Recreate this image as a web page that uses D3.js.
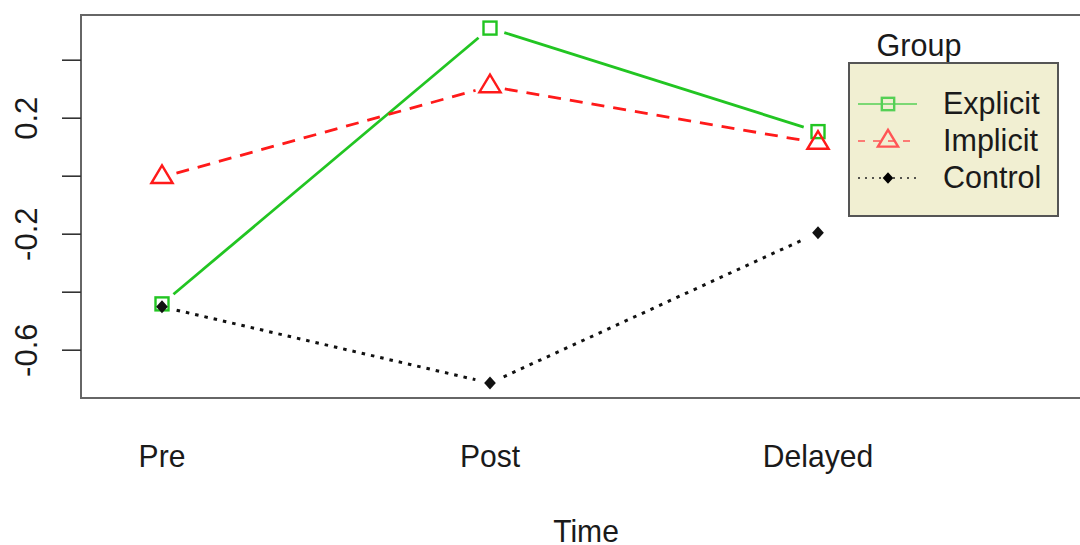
<!DOCTYPE html>
<html><head><meta charset="utf-8">
<script src="https://cdn.jsdelivr.net/npm/d3@7"></script>
<style>body{margin:0;background:#fff}svg{display:block}text{font-family:"Liberation Sans",Arial,sans-serif;fill:#1a1a1a}</style>
</head><body><svg id="c" width="1080" height="545"></svg>
<script>
const times = ["Pre", "Post", "Delayed"];
const groups = ["Explicit", "Implicit", "Control"];
const explicitVals = [-0.442, 0.509, 0.152];
const implicitVals = [-0.005, 0.308, 0.113];
const controlVals = [-0.452, -0.715, -0.197];
const yTicks = [-0.6, -0.4, -0.2, 0.0, 0.2, 0.4];
const yTickLabels = ["-0.6", "", "-0.2", "", "0.2", ""];
const xLabel = "Time";
const legendTitle = "Group";

const svg = d3.select("#c");
const x = d3.scalePoint().domain(times).range([162, 818]);
const y = d3.scaleLinear().domain([-0.6, 0.4]).range([349.7, 59.7]);

// plot box
svg.append("rect").attr("x", 81).attr("y", 15).attr("width", 1020).attr("height", 383)
  .attr("fill", "none").attr("stroke", "#666").attr("stroke-width", 2);

// y axis
const yAxis = d3.axisLeft(y).tickValues(yTicks).tickSize(19).tickFormat((d, i) => yTickLabels[i]);
const ga = svg.append("g").attr("transform", "translate(81,0)").call(yAxis);
ga.select(".domain").remove();
ga.selectAll(".tick line").attr("stroke", "#333").attr("stroke-width", 1.6);
ga.selectAll(".tick text").attr("transform", "rotate(-90)").attr("x", 0).attr("y", -44)
  .attr("dy", 0).attr("text-anchor", "middle").style("font-size", "31px").attr("fill", "#1a1a1a");

// x labels
svg.append("g").selectAll("text").data(times).join("text")
  .attr("transform", d => `translate(${x(d)},467) scale(0.94,1)`)
  .attr("text-anchor", "middle").style("font-size", "32px").text(d => d);
svg.append("text").attr("transform", "translate(586,542) scale(0.94,1)")
  .attr("text-anchor", "middle").style("font-size", "32px").text(xLabel);

const series = [
  {name: groups[0], vals: explicitVals, color: "#22C522", dash: null, width: 2.8, shape: "square"},
  {name: groups[1], vals: implicitVals, color: "#FF1A1A", dash: "13,9", width: 2.8, shape: "triangle"},
  {name: groups[2], vals: controlVals, color: "#111", dash: "3.5,6", width: 3, shape: "diamond"}
];

function drawMarker(g, shape, cx, cy, color, s) {
  if (shape === "square") {
    g.append("rect").attr("x", cx - 6.5 * s).attr("y", cy - 6.5 * s).attr("width", 13 * s).attr("height", 13 * s)
      .attr("fill", "none").attr("stroke", color).attr("stroke-width", 2.4);
  } else if (shape === "triangle") {
    const h = 8.8 * s, w = 10.6 * s;
    g.append("path").attr("d", `M${cx},${cy - 1.333 * h}L${cx + w},${cy + 0.667 * h}L${cx - w},${cy + 0.667 * h}Z`)
      .attr("fill", "none").attr("stroke", color).attr("stroke-width", 2.4);
  } else {
    const r = 6.5 * s;
    g.append("path").attr("d", `M${cx},${cy - r}L${cx + r * 0.9},${cy}L${cx},${cy + r}L${cx - r * 0.9},${cy}Z`)
      .attr("fill", color);
  }
}

const gap = 15;
series.forEach(s => {
  const g = svg.append("g");
  const pts = s.vals.map((v, i) => [x(times[i]), y(v)]);
  for (let i = 0; i < pts.length - 1; i++) {
    const [x0, y0] = pts[i], [x1, y1] = pts[i + 1];
    const L = Math.hypot(x1 - x0, y1 - y0);
    const ux = (x1 - x0) / L, uy = (y1 - y0) / L;
    g.append("line").attr("x1", x0 + ux * gap).attr("y1", y0 + uy * gap)
      .attr("x2", x1 - ux * gap).attr("y2", y1 - uy * gap)
      .attr("stroke", s.color).attr("stroke-width", s.width)
      .attr("stroke-dasharray", s.dash).attr("stroke-linecap", "butt");
  }
  pts.forEach(p => drawMarker(g, s.shape, p[0], p[1], s.color, 1));
});

// legend
svg.append("text").attr("x", 919).attr("y", 56).attr("text-anchor", "middle").style("font-size", "30.5px").text(legendTitle);
svg.append("rect").attr("x", 849).attr("y", 63).attr("width", 209).attr("height", 153)
  .attr("fill", "#F1EFD2").attr("stroke", "#555").attr("stroke-width", 2);
const legRows = [104, 141, 178];
const legColors = ["#55D055", "#FF5555", "#222"];
const legDash = [null, "7,8", "2,5"];
series.forEach((s, i) => {
  const g = svg.append("g");
  const ly = legRows[i];
  g.append("line").attr("x1", 858).attr("x2", 917).attr("y1", ly).attr("y2", ly)
    .attr("stroke", legColors[i]).attr("stroke-width", 1.6).attr("stroke-dasharray", legDash[i]);
  if (s.shape === "diamond") {
    drawMarker(g, s.shape, 888, ly, "#000", 0.9);
  } else {
    drawMarker(g, s.shape, 888, ly, legColors[i], 0.95);
  }
  g.append("text").attr("x", 943).attr("y", ly + 10).style("font-size", "30.5px").text(s.name);
});
</script></body></html>
